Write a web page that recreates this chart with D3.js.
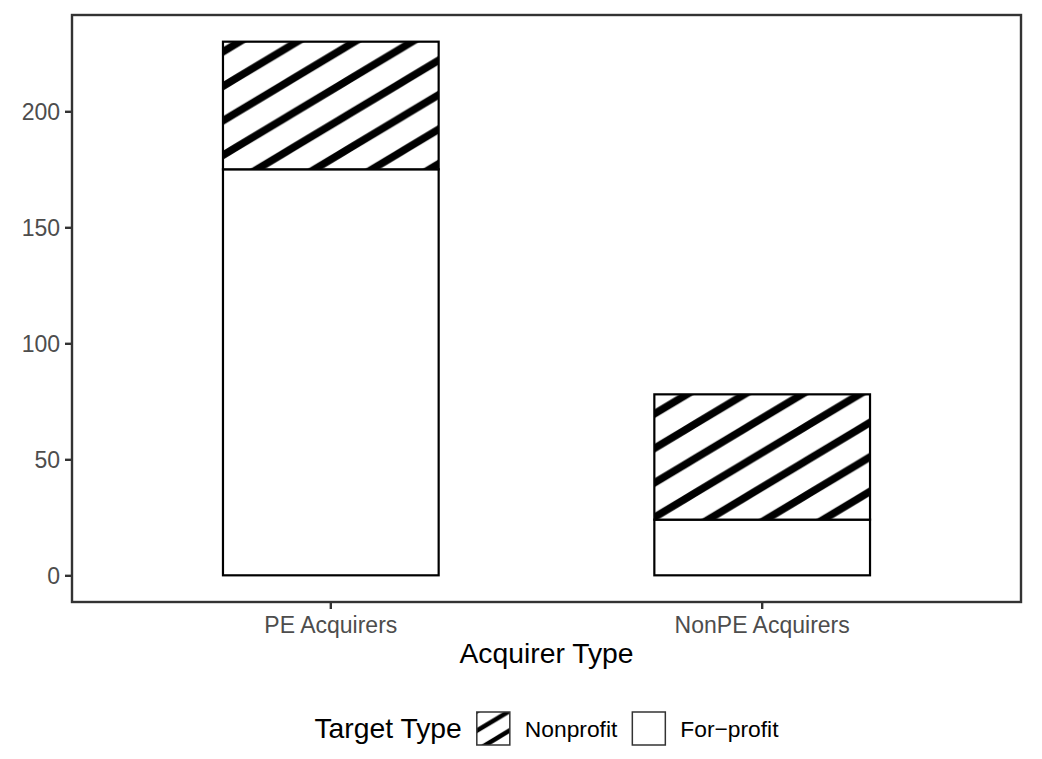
<!DOCTYPE html>
<html>
<head>
<meta charset="utf-8">
<script src="https://cdn.jsdelivr.net/npm/d3@7"></script>
<style>
  body { margin: 0; background: #fff; }
  svg { display: block; font-family: "Liberation Sans", Arial, Helvetica, sans-serif; }
</style>
</head>
<body>
<div id="chart"></div>
<script>
// data
const categories = ["PE Acquirers", "NonPE Acquirers"];
const forProfit = [175, 24];
const nonprofit = [55, 54];
const yTicks = [0, 50, 100, 150, 200];
const legendLabels = ["Nonprofit", "For\u2212profit"];

const width = 1042, height = 759;
const panel = { left: 72, right: 1021, top: 15, bottom: 602 };

const svg = d3.select("#chart").append("svg")
  .attr("width", width)
  .attr("height", height);

svg.append("rect").attr("width", width).attr("height", height).attr("fill", "#fff");

// stripe fill patterns (slope ~31 deg)
const defs = svg.append("defs");
function stripes(id, W, H, sw, x0, y0) {
  const p = defs.append("pattern")
    .attr("id", id)
    .attr("patternUnits", "userSpaceOnUse")
    .attr("x", x0).attr("y", y0)
    .attr("width", W).attr("height", H);
  p.append("rect").attr("width", W).attr("height", H).attr("fill", "#fff");
  [-1, 0, 1].forEach(k => {
    p.append("line")
      .attr("x1", -W / 2).attr("y1", H + k * H + H / 2)
      .attr("x2", 1.5 * W).attr("y2", H + k * H - 1.5 * H)
      .attr("stroke", "#000").attr("stroke-width", sw);
  });
}
stripes("hatch", 57.5, 34.5, 7.5, 0, 13);

const y = d3.scaleLinear()
  .domain([-11.5, 241.5])
  .range([panel.bottom, panel.top]);

const x = d3.scaleBand()
  .domain(categories)
  .range([panel.left, panel.right])
  .paddingInner(0.5)
  .paddingOuter(0.35);

// bars: for-profit at bottom, nonprofit stacked on top
const rows = categories.map((c, i) => ({ c, fp: forProfit[i], np: nonprofit[i] }));

svg.append("g").selectAll("rect.fp").data(rows).enter().append("rect")
  .attr("x", d => x(d.c))
  .attr("y", d => y(d.fp))
  .attr("width", x.bandwidth())
  .attr("height", d => y(0) - y(d.fp))
  .attr("fill", "#fff")
  .attr("stroke", "#000")
  .attr("stroke-width", 2.2);

svg.append("g").selectAll("rect.np").data(rows).enter().append("rect")
  .attr("x", d => x(d.c))
  .attr("y", d => y(d.fp + d.np))
  .attr("width", x.bandwidth())
  .attr("height", d => y(d.fp) - y(d.fp + d.np))
  .attr("fill", "url(#hatch)")
  .attr("stroke", "#000")
  .attr("stroke-width", 2.2);

// panel border
svg.append("rect")
  .attr("x", panel.left).attr("y", panel.top)
  .attr("width", panel.right - panel.left)
  .attr("height", panel.bottom - panel.top)
  .attr("fill", "none")
  .attr("stroke", "#333333")
  .attr("stroke-width", 2.4);

// axes
function styleAxis(g) {
  g.select(".domain").remove();
  g.selectAll(".tick line").attr("stroke", "#333333").attr("stroke-width", 2.4);
  g.selectAll(".tick text")
    .attr("fill", "#4d4d4d")
    .style("font-size", "23px")
    .style("font-family", "'Liberation Sans', Arial, Helvetica, sans-serif");
}

svg.append("g")
  .attr("transform", `translate(${panel.left},0)`)
  .call(d3.axisLeft(y).tickValues(yTicks).tickSize(7).tickPadding(5))
  .call(styleAxis)
  .selectAll(".tick text").attr("dy", "0.36em");

svg.append("g")
  .attr("transform", `translate(0,${panel.bottom})`)
  .call(d3.axisBottom(x).tickSize(7).tickPadding(6))
  .call(styleAxis)
  .selectAll(".tick text").attr("dy", "0").attr("y", 31);

svg.append("text")
  .attr("x", (panel.left + panel.right) / 2)
  .attr("y", 663)
  .attr("text-anchor", "middle")
  .style("font-size", "28.3px")
  .attr("fill", "#000")
  .text("Acquirer Type");

// legend
const leg = svg.append("g");
const keySize = 33, gap = 15;
const keyTop = 712;
let cx = 0;
const title = leg.append("text")
  .attr("x", cx).attr("y", 738)
  .style("font-size", "28.3px")
  .text("Target Type");
cx += title.node().getComputedTextLength() + gap;

const keyX = [];
legendLabels.forEach((lab, i) => {
  keyX.push(cx);
  leg.append("rect")
    .attr("class", "key" + i)
    .attr("x", cx).attr("y", keyTop)
    .attr("width", keySize).attr("height", keySize)
    .attr("stroke", "#333333").attr("stroke-width", 1.5);
  cx += keySize + gap;
  const t = leg.append("text")
    .attr("x", cx).attr("y", 737)
    .style("font-size", "22.8px")
    .text(lab);
  cx += t.node().getComputedTextLength() + gap;
});
const legW = cx - gap;
const legX = (panel.left + panel.right) / 2 - legW / 2;
leg.attr("transform", `translate(${legX},0)`);

// key stripes are finer, with their own phase
stripes("keyhatch", 32.5, 19.5, 4.5, legX + keyX[0], keyTop + 25 - 19.5);
leg.select(".key0").attr("fill", "url(#keyhatch)");
leg.select(".key1").attr("fill", "#fff");
</script>
</body>
</html>
